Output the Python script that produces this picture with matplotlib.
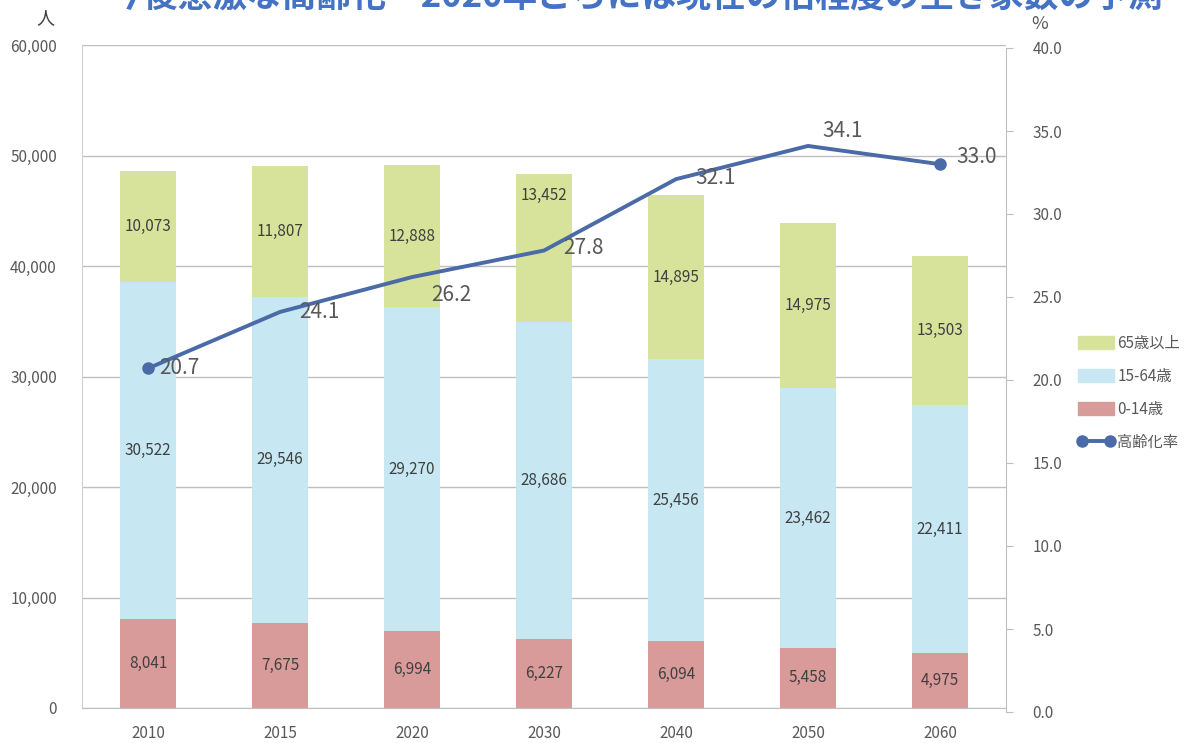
import matplotlib
matplotlib.use("Agg")
import matplotlib.pyplot as plt
from matplotlib.lines import Line2D
from matplotlib.patches import Patch

plt.rcParams['font.family'] = ['Noto Sans CJK JP', 'DejaVu Sans']

years = ["2010", "2015", "2020", "2030", "2040", "2050", "2060"]
age_0_14 = [8041, 7675, 6994, 6227, 6094, 5458, 4975]
age_15_64 = [30522, 29546, 29270, 28686, 25456, 23462, 22411]
age_65_plus = [10073, 11807, 12888, 13452, 14895, 14975, 13503]
aging_rate = [20.7, 24.1, 26.2, 27.8, 32.1, 34.1, 33.0]
left_ticks = [0, 10000, 20000, 30000, 40000, 50000, 60000]
right_ticks = [0, 5, 10, 15, 20, 25, 30, 35, 40]
title = "今後急激な高齢化　2020年ごろには現在の倍程度の空き家数の予測"

c_red = "#d99a9a"
c_blue = "#c7e8f3"
c_green = "#d7e29a"
c_line = "#4a6aa8"
c_text = "#595959"
c_grid = "#bfbfbf"

fig = plt.figure(figsize=(11.98, 7.43), dpi=100)
ax = fig.add_axes([82/1198, 1-708/743, (1006-82)/1198, (708-45)/743])
ax2 = fig.add_axes([82/1198, 1-712/743, (1006-82)/1198, (712-48)/743], sharex=ax)
ax2.patch.set_visible(False)
ax2.yaxis.tick_right()
ax2.yaxis.set_label_position('right')
ax2.tick_params(axis='x', bottom=False, labelbottom=False)

x = list(range(len(years)))
w = 0.42
ax.bar(x, age_0_14, w, color=c_red, zorder=2)
bottom2 = age_0_14
ax.bar(x, age_15_64, w, bottom=bottom2, color=c_blue, zorder=2)
bottom3 = [a + b for a, b in zip(age_0_14, age_15_64)]
ax.bar(x, age_65_plus, w, bottom=bottom3, color=c_green, zorder=2)

ax.set_xlim(-0.5, len(years) - 0.5)
ax.set_ylim(0, 60000)
ax.set_yticks(left_ticks)
ax.set_yticklabels([f"{v:,}" for v in left_ticks])
ax.set_xticks(x)
ax.set_xticklabels(years)
ax.yaxis.grid(True, color=c_grid, linewidth=1.0, zorder=0)
ax.set_axisbelow(True)
ax.tick_params(axis='y', length=0, labelsize=11, labelcolor=c_text, pad=18)
ax.tick_params(axis='x', length=0, labelsize=11, labelcolor=c_text, pad=12)
for s in ['top', 'right']:
    ax.spines[s].set_visible(False)
ax.spines['left'].set_color("#d0d0d0")
ax.spines['bottom'].set_color(c_grid)

# data labels in bars
lab_kw = dict(ha='center', va='center', fontsize=11, color="#404040", zorder=4)
for i in x:
    ax.text(i, age_0_14[i] / 2, f"{age_0_14[i]:,}", **lab_kw)
    ax.text(i, bottom2[i] + age_15_64[i] / 2, f"{age_15_64[i]:,}", **lab_kw)
    yv = bottom3[i] + age_65_plus[i] / 2
    if i == 3:
        yv = bottom3[i] + age_65_plus[i] * 0.85
    ax.text(i, yv, f"{age_65_plus[i]:,}", **lab_kw)

# line on secondary axis
ax2.set_ylim(0, 40)
ax2.set_yticks(right_ticks)
ax2.set_yticklabels([f"{v:.1f}" for v in right_ticks])
ax2.tick_params(axis='y', length=5, color=c_grid, labelsize=11, labelcolor=c_text, pad=14)
for s in ['top', 'left', 'bottom']:
    ax2.spines[s].set_visible(False)
ax2.spines['right'].set_color(c_grid)
ax2.plot(x, aging_rate, color=c_line, linewidth=2.8, zorder=5)
ax2.plot([x[0], x[-1]], [aging_rate[0], aging_rate[-1]], 'o', color=c_line,
         markersize=8, zorder=6)
offsets = [(8, 0), (14, 0), (14, -13), (14, 2), (14, 1), (10, 11), (12, 5)]
for i, v in enumerate(aging_rate):
    ax2.annotate(f"{v:.1f}", (x[i], v), xytext=offsets[i], textcoords='offset points',
                 ha='left', va='center', fontsize=15, color=c_text, zorder=7)

# axis unit labels
fig.text(45/1198, 1-18/743, "人", ha='center', va='center', fontsize=13, color="#404040")
fig.text(1040/1198, 1-24/743, "%", ha='center', va='center', fontsize=13, color=c_text)

# title (cut off at top, as in the reference)
fig.text(108/1198, 1 + 4/743, title, ha='left', va='center', fontsize=25,
         fontweight='bold', color="#4472c4")

# legend
handles = [Patch(color=c_green), Patch(color=c_blue), Patch(color=c_red),
           Line2D([0], [0], color=c_line, lw=2.8, marker='o', markersize=8)]
labels = ["65歳以上", "15-64歳", "0-14歳", "高齢化率"]
fig.legend(handles, labels, loc='upper left',
           bbox_to_anchor=(1064/1198, 1-321/743), frameon=False,
           fontsize=11, labelcolor=c_text, handlelength=2.4, handleheight=0.9,
           handletextpad=0.2, labelspacing=1.05, numpoints=2)

fig.savefig("out.png", dpi=100)
